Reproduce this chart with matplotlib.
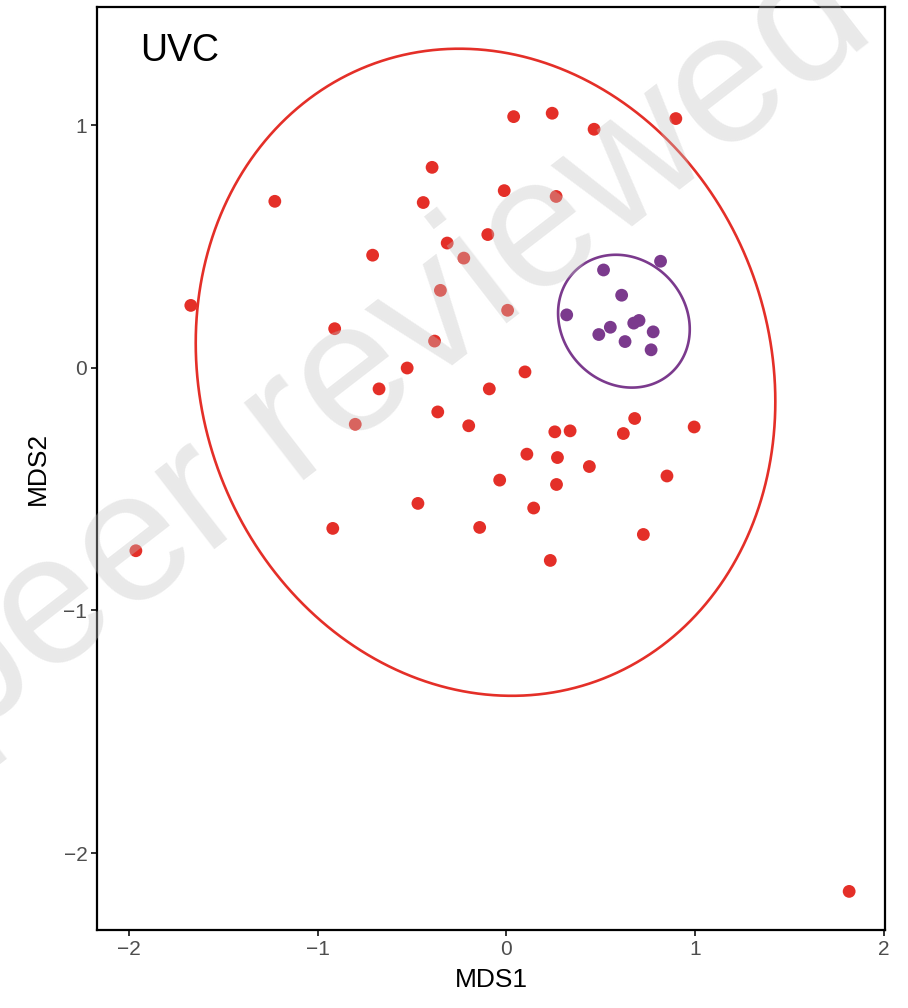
"""MDS ordination of UVC samples with group ellipses (recreated from a ggplot figure)."""

import matplotlib

matplotlib.use("Agg")
import matplotlib.pyplot as plt
import numpy as np
from matplotlib.patches import Polygon

plt.rcParams["font.family"] = ["Liberation Sans", "DejaVu Sans"]

# red group, MDS1 / MDS2
red_x = [0.038, -0.394, -0.012, -0.441, -1.227, -0.099, -0.314, -0.226, -0.709,
         -0.350, 0.006, -1.672, -0.910, -0.381, -0.526, -0.675, -0.091, 0.098,
         0.242, 0.464, 0.897, 0.263, -0.801, -0.364, -0.200, 0.108, -0.036,
         -0.469, 0.144, -0.920, -0.142, -1.963, 0.256, 0.337, 0.679, 0.619,
         0.994, 0.270, 0.439, 0.265, 0.850, 0.725, 0.232, 1.815]
red_y = [1.035, 0.826, 0.730, 0.681, 0.686, 0.549, 0.514, 0.452, 0.464,
         0.319, 0.237, 0.257, 0.161, 0.110, -0.001, -0.087, -0.087, -0.017,
         1.049, 0.983, 1.027, 0.706, -0.233, -0.182, -0.239, -0.356, -0.463,
         -0.559, -0.578, -0.662, -0.658, -0.754, -0.264, -0.260, -0.209, -0.271,
         -0.244, -0.370, -0.407, -0.481, -0.446, -0.687, -0.794, -2.158]

# purple group
purple_x = [0.816, 0.514, 0.610, 0.319, 0.550, 0.489, 0.674, 0.702, 0.777, 0.628, 0.766]
purple_y = [0.439, 0.403, 0.299, 0.218, 0.167, 0.137, 0.184, 0.195, 0.148, 0.108, 0.074]

# ellipse centre and shape matrix for each group
red_centre = [-0.111, -0.0185]
red_shape = [[2.356, -0.185], [-0.185, 1.778]]
purple_centre = [0.622, 0.192]
purple_shape = [[0.1216, -0.0116], [-0.0116, 0.0749]]

RED = "#E42F28"
PURPLE = "#7B3A8D"


def ellipse_path(centre, shape, n=240):
    t = np.linspace(0, 2 * np.pi, n, endpoint=False)
    L = np.linalg.cholesky(np.array(shape))
    return (L @ np.vstack([np.cos(t), np.sin(t)])).T + np.array(centre)


fig = plt.figure(figsize=(9.08, 10.08), dpi=100)
ax = fig.add_axes([0.1068, 0.0774, 0.8679, 0.9157])

ax.scatter(red_x, red_y, s=85, color=RED, edgecolors="none", zorder=3)
ax.scatter(purple_x, purple_y, s=85, color=PURPLE, edgecolors="none", zorder=3)

ax.add_patch(Polygon(ellipse_path(red_centre, red_shape), closed=True,
                     fill=False, edgecolor=RED, lw=1.9, zorder=2))
ax.add_patch(Polygon(ellipse_path(purple_centre, purple_shape), closed=True,
                     fill=False, edgecolor=PURPLE, lw=1.9, zorder=2))

ax.set_xlim(-2.169, 2.005)
ax.set_ylim(-2.317, 1.487)
ax.set_xticks([-2, -1, 0, 1, 2])
ax.set_yticks([-2, -1, 0, 1])

for side in ax.spines.values():
    side.set_linewidth(1.6)
    side.set_color("black")

ax.tick_params(axis="both", direction="out", length=4, width=1.4,
               color="#333333", labelcolor="#4D4D4D", labelsize=15, pad=3)

ax.set_xlabel("MDS1", fontsize=19, labelpad=7)
ax.set_ylabel("MDS2", fontsize=19, labelpad=10)

ax.text(0.0546, 0.952, "UVC", transform=ax.transAxes, fontsize=27,
        ha="left", va="center", color="black")

# preprint watermark
fig.text(391 / 908, 1 - 352 / 1008, "peer reviewed", fontsize=133,
         rotation=37.7, rotation_mode="anchor", ha="center", va="center",
         color="#C4C4C4", alpha=0.36, zorder=10)

fig.savefig("out.png", dpi=100, facecolor="white")
